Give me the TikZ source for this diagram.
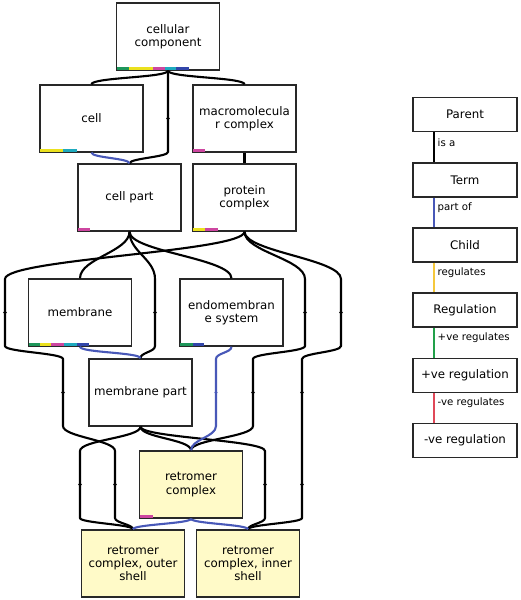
\documentclass[tikz,border=0pt]{standalone}
\usepackage{fontspec}
\setmainfont{DejaVu Sans}
\usetikzlibrary{calc}
\definecolor{ogblue}{RGB}{72,88,184}
\definecolor{ogyellow}{RGB}{245,200,60}
\definecolor{oggreen}{RGB}{34,160,74}
\definecolor{ogred}{RGB}{224,72,88}
\definecolor{barg}{RGB}{30,150,90}
\definecolor{bary}{RGB}{235,225,30}
\definecolor{barm}{RGB}{205,70,160}
\definecolor{barc}{RGB}{30,170,190}
\definecolor{barb}{RGB}{50,70,170}
\definecolor{retfill}{RGB}{255,250,200}
\definecolor{boxline}{RGB}{40,40,40}
\newcommand\cbar[4]{\fill[#4] ($(#1.south west)+(#2+0.7,-0.7)$) rectangle ($(#1.south west)+(#3+0.7,-3.8)$);}
\newcommand\bendpt[1]{\fill (#1) circle (1.8pt);}
\begin{document}
\begin{tikzpicture}[x=1pt,y=-1pt,
 term/.style={draw=boxline, line width=1.35pt, fill=white, minimum width=103pt, minimum height=67pt, inner sep=1pt, align=center, font=\fontsize{11.8}{13.3}\selectfont},
 focus/.style={term, fill=retfill},
 legbox/.style={draw=boxline, line width=1.35pt, fill=white, minimum width=104pt, minimum height=34pt, inner sep=1pt, font=\fontsize{11.8}{13.3}\selectfont},
 isa/.style={draw=black, line width=2.1pt},
 partof/.style={draw=ogblue, line width=2.1pt},
 leglabel/.style={anchor=west, inner sep=0pt, font=\fontsize{10.2}{12}\selectfont},
]
\useasboundingbox[fill=white] (0,0) rectangle (520,600);

% ---- term nodes
\node[term] (cc) at (168,36.5) {cellular\\component};
\node[term] (cell) at (91.5,118.5) {cell};
\node[term] (macro) at (244.5,118.5) {macromolecula\\r complex};
\node[term] (cellpart) at (129.5,197.5) {cell part};
\node[term] (protein) at (244.5,197.5) {protein\\complex};
\node[term] (membrane) at (80,312.5) {membrane};
\node[term] (endo) at (231.5,312.5) {endomembran\\e system};
\node[term] (mpart) at (140.5,392.5) {membrane part};
\node[focus] (retro) at (191,484.5) {retromer\\complex};
\node[focus] (outer) at (133,563.5) {retromer\\complex, outer\\shell};
\node[focus] (inner) at (248,563.5) {retromer\\complex, inner\\shell};

% ---- colour bars
\cbar{cc}{0}{12.7}{barg}\cbar{cc}{12.7}{36.7}{bary}\cbar{cc}{36.7}{48}{barm}\cbar{cc}{48}{59.4}{barc}\cbar{cc}{59.4}{72.7}{barb}
\cbar{cell}{0}{23.3}{bary}\cbar{cell}{23.3}{37.3}{barc}
\cbar{macro}{0}{12}{barm}
\cbar{cellpart}{0}{12}{barm}
\cbar{protein}{0}{12}{bary}\cbar{protein}{12}{25}{barm}
\cbar{membrane}{0}{11}{barg}\cbar{membrane}{11}{22.7}{bary}\cbar{membrane}{22.7}{35}{barm}\cbar{membrane}{35}{48.3}{barc}\cbar{membrane}{48.3}{60.3}{barb}
\cbar{endo}{0}{13}{barg}\cbar{endo}{13}{24}{barb}
\cbar{retro}{0}{13}{barm}

% ---- routing points
\coordinate (c1a) at (168,85);  \coordinate (c1b) at (168,152);
\coordinate (m1a) at (155,279); \coordinate (m1b) at (155,346);
\coordinate (p1a) at (5,279);   \coordinate (p1b) at (5,346);
\coordinate (p2a) at (63,359);  \coordinate (p2b) at (63,426);
\coordinate (p3a) at (115,451); \coordinate (p3b) at (115,518);
\coordinate (q1a) at (305,279); \coordinate (q1b) at (305,346);
\coordinate (q2a) at (253,359); \coordinate (q2b) at (253,426);
\coordinate (r1a) at (341,279); \coordinate (r1b) at (341,346);
\coordinate (r2a) at (302,359); \coordinate (r2b) at (302,518);
\coordinate (s1a) at (80,451);  \coordinate (s1b) at (80,518);
\coordinate (t1a) at (265,451); \coordinate (t1b) at (265,518);
\coordinate (e1a) at (216,359); \coordinate (e1b) at (216,426);

% ---- is_a edges
\draw[isa] (cc.south) .. controls +(0,7) and +(0,-7) .. (cell.north);
\draw[isa] (cc.south) .. controls +(0,7) and +(0,-7) .. (macro.north);
\draw[isa] (cc.south) -- (c1a) -- (c1b) .. controls +(0,5) and +(0,-5) .. (cellpart.north);
\draw[isa] (macro.south) -- (protein.north);
\draw[isa] (cellpart.south) .. controls +(0,20) and +(0,-20) .. (membrane.north);
\draw[isa] (cellpart.south) .. controls +(0,20) and +(0,-20) .. (endo.north);
\draw[isa] (cellpart.south) .. controls +(0,20) and +(0,-20) .. (m1a) -- (m1b) .. controls +(0,6) and +(0,-6) .. (mpart.north);
\draw[isa] (protein.south) .. controls +(0,20) and +(0,-20) .. (p1a) -- (p1b)
  .. controls +(0,6) and +(0,-6) .. (p2a) -- (p2b)
  .. controls +(0,11) and +(0,-11) .. (p3a) -- (p3b)
  .. controls +(0,5) and +(0,-5) .. (outer.north);
\draw[isa] (protein.south) .. controls +(0,20) and +(0,-20) .. (q1a) -- (q1b)
  .. controls +(0,6) and +(0,-6) .. (q2a) -- (q2b)
  .. controls +(0,11) and +(0,-11) .. (retro.north);
\draw[isa] (protein.south) .. controls +(0,20) and +(0,-20) .. (r1a) -- (r1b)
  .. controls +(0,6) and +(0,-6) .. (r2a) -- (r2b)
  .. controls +(0,5) and +(0,-5) .. (inner.north);
\draw[isa] (mpart.south) .. controls +(0,11) and +(0,-11) .. (s1a) -- (s1b) .. controls +(0,5) and +(0,-5) .. (outer.north);
\draw[isa] (mpart.south) .. controls +(0,11) and +(0,-11) .. (t1a) -- (t1b) .. controls +(0,5) and +(0,-5) .. (inner.north);
\draw[isa] (mpart.south) .. controls +(0,11) and +(0,-11) .. (retro.north);

% ---- part_of edges
\draw[partof] (cell.south) .. controls +(0,5) and +(0,-5) .. (cellpart.north);
\draw[partof] (membrane.south) .. controls +(0,6) and +(0,-6) .. (mpart.north);
\draw[partof] (endo.south) .. controls +(0,6) and +(0,-6) .. (e1a) -- (e1b) .. controls +(0,11) and +(0,-11) .. (retro.north);
\draw[partof] (retro.south) .. controls +(0,5) and +(0,-5) .. (outer.north);
\draw[partof] (retro.south) .. controls +(0,5) and +(0,-5) .. (inner.north);

% ---- bend dots
\bendpt{$(c1a)!0.5!(c1b)$}
\bendpt{$(m1a)!0.5!(m1b)$}
\bendpt{$(p1a)!0.5!(p1b)$}\bendpt{$(p2a)!0.5!(p2b)$}\bendpt{$(p3a)!0.5!(p3b)$}
\bendpt{$(q1a)!0.5!(q1b)$}\bendpt{$(q2a)!0.5!(q2b)$}
\bendpt{$(r1a)!0.5!(r1b)$}\bendpt{302,392.5}\bendpt{302,484.5}
\bendpt{$(s1a)!0.5!(s1b)$}\bendpt{$(t1a)!0.5!(t1b)$}
\fill[ogblue] ($(e1a)!0.5!(e1b)$) circle (1.6pt);

% ---- legend
\node[legbox] (lparent) at (465,114.5) {Parent};
\node[legbox] (lterm) at (465,180) {Term};
\node[legbox] (lchild) at (465,245) {Child};
\node[legbox] (lreg) at (465,310) {Regulation};
\node[legbox] (lpos) at (465,375.5) {+ve regulation};
\node[legbox] (lneg) at (465,440.5) {-ve regulation};
\coordinate (lx) at (434,0);
\draw[line width=2.3pt, black] (lparent.south -| lx) -- (lterm.north -| lx);
\draw[line width=2.3pt, ogblue] (lterm.south -| lx) -- (lchild.north -| lx);
\draw[line width=2.3pt, ogyellow] (lchild.south -| lx) -- (lreg.north -| lx);
\draw[line width=2.3pt, oggreen] (lreg.south -| lx) -- (lpos.north -| lx);
\draw[line width=2.3pt, ogred] (lpos.south -| lx) -- (lneg.north -| lx);
\node[leglabel] (tisa) at (437.5,143) {is a};
\node[leglabel] (tpart) at (437.5,208) {part of};
\node[leglabel] (treg) at (437.5,273) {regulates};
\node[leglabel] (tpos) at (437.5,338) {+ve regulates};
\node[leglabel] (tneg) at (437.5,403) {-ve regulates};
\end{tikzpicture}
\end{document}
